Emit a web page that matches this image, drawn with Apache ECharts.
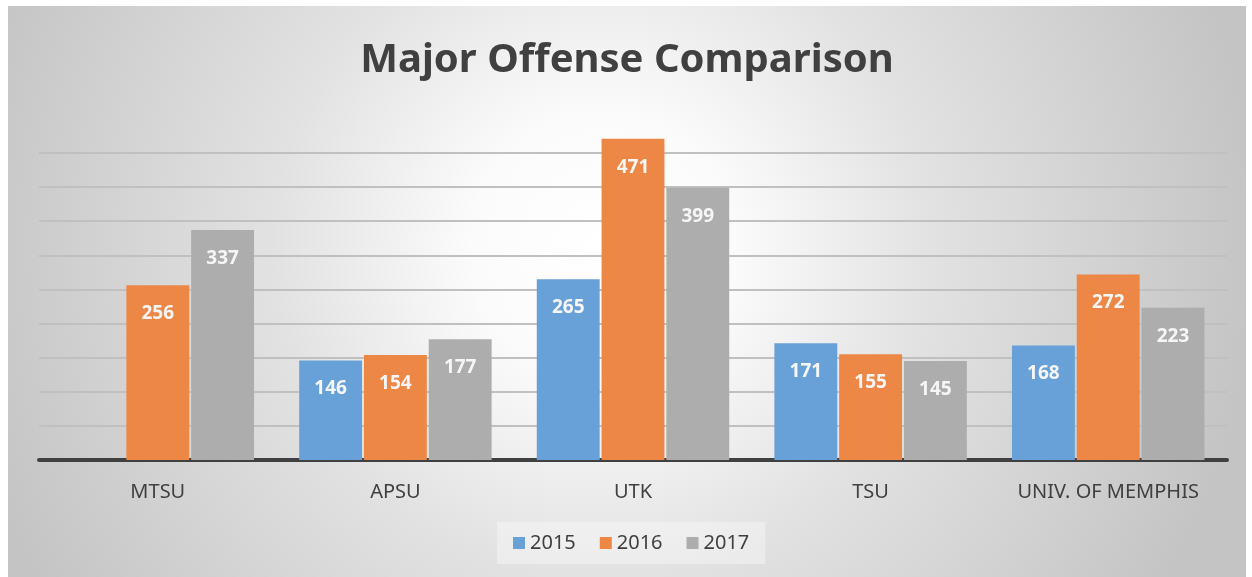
<!DOCTYPE html>
<html>
<head>
<meta charset="utf-8">
<script src="https://cdn.jsdelivr.net/npm/echarts@6/dist/echarts.min.js"></script>
<style>
  html, body { margin: 0; padding: 0; background: #fff; }
  #chart { position: absolute; left: 8px; top: 6px; width: 1238px; height: 571px; }
</style>
</head>
<body>
<div id="chart"></div>
<script>
var categories = ['MTSU', 'APSU', 'UTK', 'TSU', 'UNIV. OF MEMPHIS'];
var years = ['2015', '2016', '2017'];
var data2015 = [null, 146, 265, 171, 168];
var data2016 = [256, 154, 471, 155, 272];
var data2017 = [337, 177, 399, 145, 223];
var colors = ['#68a1d8', '#ec8746', '#adadad'];

var myChart = echarts.init(document.getElementById('chart'));

function makeSeries(name, values, color) {
  return {
    name: name,
    type: 'bar',
    data: values,
    clip: false,
    barGap: '3%',
    barCategoryGap: '19%',
    itemStyle: { color: color },
    label: {
      show: true,
      position: 'insideTop',
      distance: 19,
      color: '#f6f6f6',
      fontFamily: 'Noto Sans',
      fontWeight: 'bold',
      fontSize: 19
    }
  };
}

var option = {
  backgroundColor: {
    type: 'radial', x: 0.48, y: 0.42, r: 1.15,
    colorStops: [
      { offset: 0, color: '#ffffff' },
      { offset: 0.2, color: '#fbfbfb' },
      { offset: 0.5, color: '#e2e2e2' },
      { offset: 1, color: '#c4c4c4' }
    ]
  },
  animation: false,
  title: {
    text: 'Major Offense Comparison',
    left: 'center',
    top: 30,
    textStyle: {
      fontFamily: 'Noto Sans',
      fontWeight: 'bold',
      fontSize: 40,
      color: '#404040'
    }
  },
  legend: {
    data: years,
    left: 489,
    top: 516,
    itemWidth: 12,
    itemHeight: 12,
    itemGap: 24,
    padding: [11, 16],
    backgroundColor: 'rgba(255,255,255,0.35)',
    icon: 'rect',
    textStyle: { fontFamily: 'Noto Sans', fontSize: 20, color: '#404040' }
  },
  grid: { left: 31, right: 19, top: 147, bottom: 117 },
  xAxis: {
    type: 'category',
    data: categories,
    axisLine: { lineStyle: { color: '#404040', width: 4 } },
    axisTick: { show: false },
    axisLabel: {
      margin: 22,
      fontFamily: 'Noto Sans',
      fontSize: 20,
      color: '#404040'
    }
  },
  yAxis: {
    type: 'value',
    min: 0,
    max: 450,
    interval: 50,
    axisLabel: { show: false },
    axisLine: { show: false },
    axisTick: { show: false },
    splitLine: { lineStyle: { color: '#c0c0c0', width: 2 } }
  },
  series: [
    makeSeries(years[0], data2015, colors[0]),
    makeSeries(years[1], data2016, colors[1]),
    makeSeries(years[2], data2017, colors[2])
  ]
};
myChart.setOption(option);
</script>
</body>
</html>
